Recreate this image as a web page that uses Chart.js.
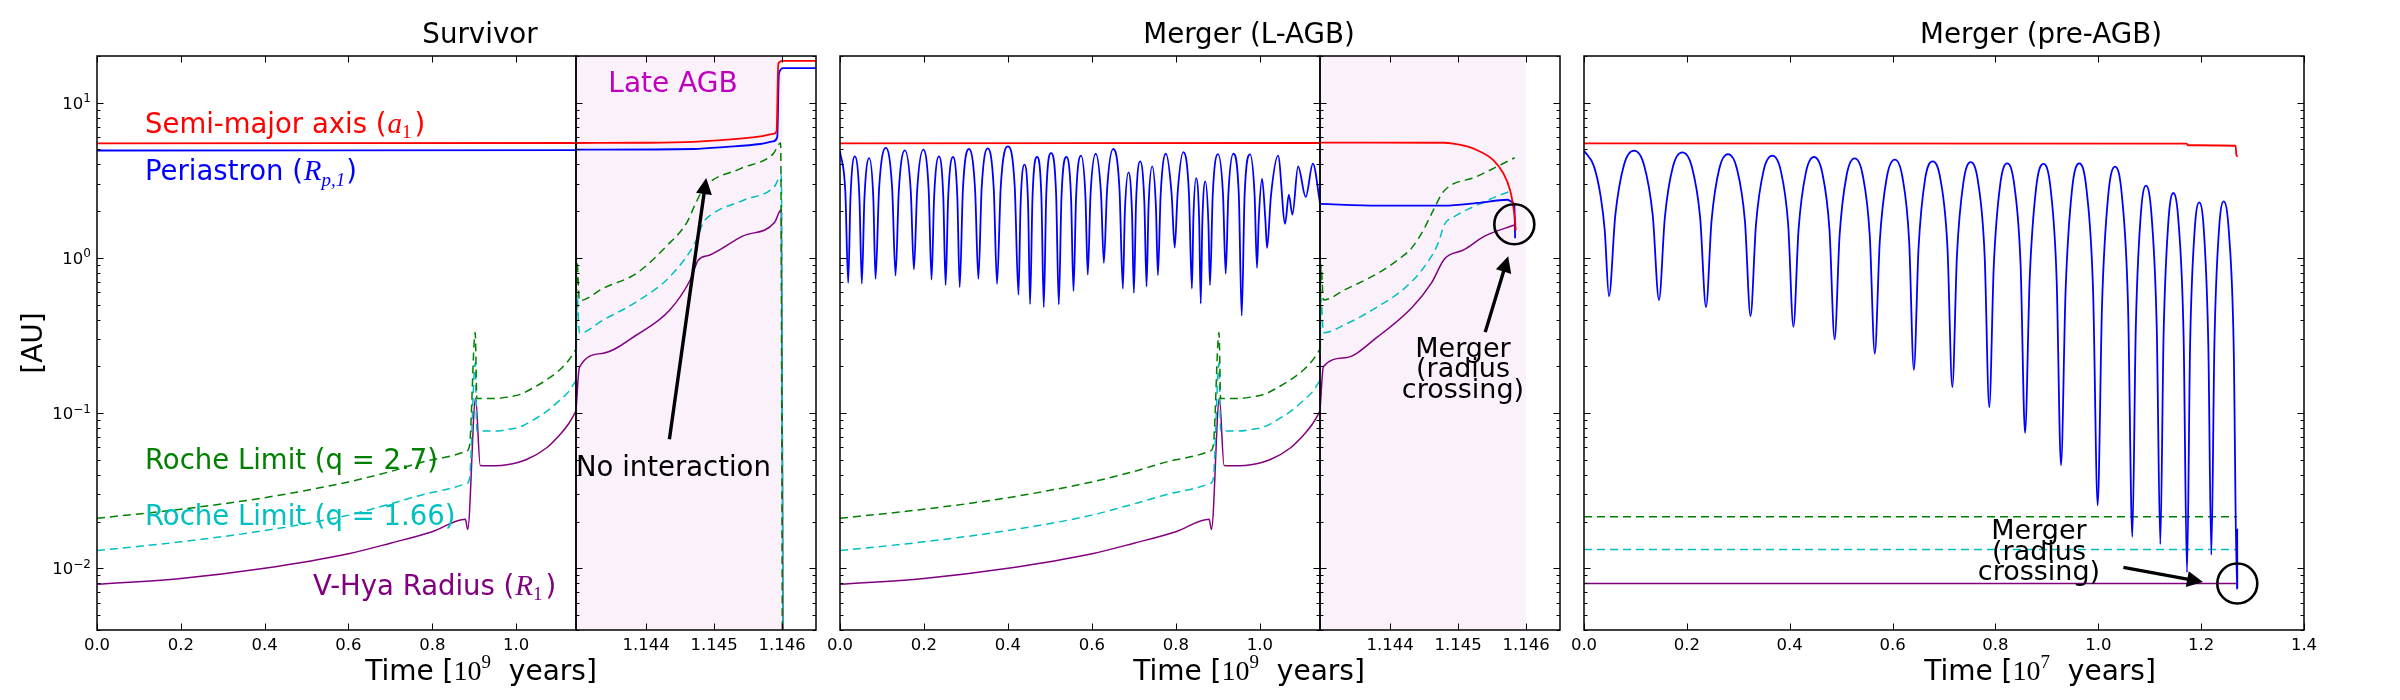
<!DOCTYPE html>
<html><head><meta charset="utf-8">
<script src="https://cdn.jsdelivr.net/npm/chart.js@4.4.1/dist/chart.umd.min.js"></script>
<style>
html,body{margin:0;padding:0;background:#fff;}
#wrap{position:relative;width:2400px;height:700px;overflow:hidden;}
canvas{position:absolute;left:0;top:0;}
</style></head>
<body><div id="wrap">
<canvas id="c1" width="2400" height="700"></canvas>
<canvas id="c2" width="2400" height="700"></canvas>
<canvas id="c3" width="2400" height="700"></canvas>
<canvas id="c4" width="2400" height="700"></canvas>
<canvas id="c5" width="2400" height="700"></canvas>
</div>
<script>
// ---------------- DATA (time, AU) ----------------
const panelTitles = ['Survivor', 'Merger (L-AGB)', 'Merger (pre-AGB)'];
const xTicksEarly = [0.0, 0.2, 0.4, 0.6, 0.8, 1.0];      // 10^9 yr
const xTicksLate  = [1.144, 1.145, 1.146];               // 10^9 yr
const xTicksPre   = [0.0, 0.2, 0.4, 0.6, 0.8, 1.0, 1.2, 1.4]; // 10^7 yr
const yMajorTicks = [0.01, 0.1, 1, 10];
const yMajorExps  = ['\u22122', '\u22121', '0', '1'];

// shared early evolution (0 - 1.143 Gyr)
const earlyA = [[0,5.47],[1.143,5.50]];
const survEarlyRp = [[0,4.92],[1.143,4.95]];
const earlyRocheHi = [[0,0.021],[0.2,0.024],[0.4,0.0285],[0.6,0.036],[0.7,0.042],[0.8,0.05],[0.882,0.057],[0.889,0.062],[0.9025,0.33],[0.9065,0.124],[0.95,0.124],[0.98,0.127],[1.01,0.132],[1.04,0.145],[1.073,0.164],[1.105,0.191],[1.125,0.218],[1.143,0.258]];
const earlyRocheLo = [[0,0.013],[0.2,0.0148],[0.4,0.0175],[0.6,0.022],[0.7,0.026],[0.8,0.0308],[0.882,0.0352],[0.889,0.038],[0.9025,0.21],[0.9065,0.0765],[0.95,0.0765],[0.98,0.0785],[1.01,0.0815],[1.04,0.09],[1.073,0.1025],[1.105,0.1215],[1.125,0.137],[1.143,0.162]];
const earlyRadius = [[0,0.0079],[0.2,0.0086],[0.4,0.01],[0.6,0.0124],[0.7,0.0145],[0.8,0.0172],[0.879,0.0207],[0.8845,0.0178],[0.9035,0.125],[0.9145,0.046],[0.95,0.0458],[0.978,0.0464],[1.025,0.0502],[1.073,0.0598],[1.105,0.0728],[1.125,0.085],[1.143,0.103]];

// Survivor, late AGB
const survLateA = [[1.14297,5.5],[1.144,5.52],[1.1447,5.6],[1.14519,5.78],[1.14568,6.07],[1.14587,6.29],[1.14592,6.55],[1.145946,17.9],[1.14601,18.6],[1.1466,18.6]];
const survLateRp = [[1.14297,4.98],[1.1447,5.03],[1.14519,5.19],[1.14568,5.42],[1.14587,5.63],[1.14593,6.0],[1.145955,15.5],[1.14602,16.7],[1.1466,16.7]];
const survLateRocheHi = [[1.14297,0.258],[1.142985,0.95],[1.14302,0.53],[1.14337,0.637],[1.14386,0.796],[1.1443,1.19],[1.1446,1.69],[1.14474,2.3],[1.14486,2.85],[1.14538,3.75],[1.14587,4.68],[1.14598,5.5],[1.146005,0.003]];
const survLateRocheLo = [[1.14297,0.162],[1.142985,0.58],[1.14302,0.327],[1.14337,0.398],[1.14386,0.522],[1.14435,0.757],[1.14474,1.3],[1.14484,1.68],[1.14496,1.9],[1.14545,2.37],[1.14589,2.89],[1.14599,3.43],[1.146015,0.003]];
const survLateRadius = [[1.14297,0.103],[1.14302,0.197],[1.14337,0.243],[1.14386,0.3185],[1.14435,0.462],[1.14465,0.72],[1.14477,0.97],[1.14494,1.044],[1.14542,1.38],[1.14589,1.69],[1.14599,2.05],[1.146015,0.003]];

// Merger (L-AGB): periastron with troughs, peaks and read-off shoulders
const lagbEarlyRp = [[0,4.86],[0.01268,2.67],[0.0195,0.69],[0.02503,2.48],[0.0353,4.51],[0.04616,2.48],[0.052,0.683],[0.05816,2.42],[0.0696,4.4],[0.07935,2.42],[0.0846,0.732],[0.09314,2.81],[0.109,5.11],[0.12415,2.81],[0.1323,0.769],[0.14007,2.71],[0.1545,4.93],[0.16848,2.71],[0.176,0.841],[0.18384,2.74],[0.1984,4.98],[0.21114,2.74],[0.218,0.725],[0.22416,2.48],[0.2356,4.51],[0.24594,2.48],[0.2515,0.667],[0.25763,2.46],[0.269,4.47],[0.2794,2.46],[0.285,0.647],[0.2927,2.77],[0.307,5.03],[0.32163,2.77],[0.3295,0.732],[0.33727,2.79],[0.3517,5.08],[0.36613,2.79],[0.3739,0.68],[0.38283,2.88],[0.3994,5.23],[0.41604,2.88],[0.425,0.58],[0.42997,2.19],[0.4392,3.99],[0.44791,2.19],[0.4526,0.503],[0.45841,2.46],[0.4692,4.47],[0.4796,2.46],[0.4852,0.481],[0.49129,2.61],[0.5026,4.74],[0.51456,2.61],[0.521,0.5],[0.5274,2.46],[0.5393,4.47],[0.55016,2.46],[0.556,0.61],[0.5623,2.51],[0.574,4.56],[0.5844,2.51],[0.59,0.78],[0.59665,2.58],[0.609,4.69],[0.62155,2.58],[0.6283,0.929],[0.63607,2.77],[0.6505,5.03],[0.66552,2.77],[0.6736,0.634],[0.67829,1.96],[0.687,3.56],[0.69532,1.96],[0.6998,0.595],[0.70505,2.3],[0.7148,4.19],[0.72468,2.3],[0.73,0.656],[0.73473,2.14],[0.7435,3.89],[0.75228,2.14],[0.757,0.773],[0.76365,2.58],[0.776,4.69],[0.78965,2.58],[0.797,1.165],[0.80414,2.65],[0.8174,4.81],[0.83079,2.65],[0.838,0.634],[0.8415,1.8],[0.848,3.27],[0.85515,1.8],[0.859,0.508],[0.86285,1.71],[0.87,3.11],[0.87715,1.71],[0.881,0.667],[0.88765,2.57],[0.9,4.67],[0.91203,2.57],[0.9185,0.792],[0.92484,2.58],[0.9366,4.69],[0.9496,2.58],[0.9566,0.425],[0.96353,2.56],[0.9764,4.65],[0.98719,2.56],[0.993,0.863],[0.9972,1.78],[1.005,3.24],[1.0128,1.78],[1.017,1.16],[1.02617,2.51],[1.0432,4.56],[1.06,1.66],[1.0687,2.56],[1.0773,1.9],[1.0908,3.89],[1.109,2.47],[1.126,4.05],[1.1433,2.24]];
const lagbLateA = [[1.14297,5.53],[1.1448,5.52],[1.14493,5.45],[1.14512,5.25],[1.145275,4.96],[1.145519,4.27],[1.145666,3.51],[1.145765,2.74],[1.145813,2.14],[1.145838,1.75],[1.14585,1.5]];
const lagbLateRp = [[1.14297,2.23],[1.14383,2.17],[1.1448,2.17],[1.14529,2.26],[1.14573,2.37],[1.14579,2.3],[1.145828,2.2],[1.14584,1.34]];
const lagbLateRocheHi = [[1.14297,0.258],[1.142985,0.9],[1.14302,0.536],[1.14334,0.625],[1.14383,0.8],[1.14412,0.975],[1.14432,1.16],[1.14449,1.51],[1.144637,2.03],[1.144784,2.67],[1.145275,3.34],[1.145834,4.42]];
const lagbLateRocheLo = [[1.14297,0.162],[1.142985,0.55],[1.14302,0.329],[1.14334,0.372],[1.14383,0.488],[1.14422,0.641],[1.14451,0.883],[1.14471,1.25],[1.1448,1.64],[1.14495,1.85],[1.14529,2.2],[1.14573,2.65],[1.14577,2.68]];
const lagbLateRadius = [[1.14297,0.103],[1.14302,0.199],[1.14334,0.227],[1.14383,0.313],[1.14432,0.477],[1.14461,0.69],[1.1448,0.985],[1.14509,1.13],[1.14539,1.38],[1.14585,1.64]];

// Merger (pre-AGB), 10^7 yr
const preA = [[0,5.47],[1.172,5.45],[1.174,5.32],[1.267,5.28],[1.2685,4.6],[1.2715,4.5]];
const preRp = [[0,4.9],[0.0194,3.89],[0.0324,2.49],[0.0402,1.52],
[0.0486,0.566],[0.0608,1.87],[0.0778,3.98],[0.0972,4.91],[0.1166,3.98],[0.1337,1.87],
[0.1458,0.535],[0.1572,1.82],[0.173,3.88],[0.1912,4.79],[0.2096,3.88],[0.2258,1.82],
[0.2373,0.482],[0.248,1.73],[0.2629,3.74],[0.28,4.67],[0.2975,3.74],[0.3129,1.73],
[0.3238,0.422],[0.3344,1.64],[0.3492,3.65],[0.3662,4.56],[0.3826,3.65],[0.397,1.64],
[0.4072,0.36],[0.4172,1.52],[0.4313,3.53],[0.4473,4.47],[0.4633,3.53],[0.4773,1.52],
[0.4873,0.299],[0.497,1.4],[0.5107,3.42],[0.5263,4.38],[0.5419,3.42],[0.5556,1.4],
[0.5654,0.242],[0.5752,1.29],[0.5888,3.31],[0.6044,4.3],[0.6192,3.31],[0.6322,1.29],
[0.6414,0.19],[0.6506,1.17],[0.663,3.18],[0.678,4.19],[0.6933,3.18],[0.7067,1.17],
[0.7162,0.147],[0.7252,1.04],[0.7377,3.06],[0.752,4.14],[0.7664,3.06],[0.779,1.04],
[0.788,0.109],[0.7968,0.89],[0.809,2.92],[0.823,4.06],[0.8368,2.92],[0.849,0.89],
[0.8576,0.0745],[0.8666,0.73],[0.8791,2.82],[0.8935,4.03],[0.9071,2.82],[0.919,0.73],
[0.9275,0.046],[0.9364,0.61],[0.9488,2.72],[0.963,4.06],[0.9773,2.72],[0.9899,0.61],
[0.9988,0.0254],[1.0073,0.5],[1.0191,2.48],[1.0327,3.87],[1.0461,2.48],[1.0578,0.5],
[1.0662,0.0159],[1.0729,0.35],[1.0822,1.81],[1.0928,2.92],[1.1039,1.81],[1.1137,0.35],
[1.1206,0.0143],[1.1269,0.31],[1.1358,1.62],[1.1459,2.62],[1.1565,1.62],[1.1659,0.31],
[1.1725,0.0094],[1.1785,0.27],[1.1868,1.41],[1.1964,2.28],[1.2058,1.41],[1.214,0.27],
[1.2198,0.0122],[1.2258,0.28],[1.2342,1.43],[1.2438,2.31],[1.2542,1.43],[1.2632,0.28],
[1.2697,0.0073],[1.2701,0.0178],[1.2703,0.0074]];
const preRocheHi = [[0,0.0215],[1.27,0.0215]];
const preRocheLo = [[0,0.0132],[1.27,0.0132]];
const preRadius = [[0,0.00796],[1.27,0.00796]];

// ---------------- STYLE ----------------
const SANS = '"DejaVu Sans", "Liberation Sans", sans-serif';
const SERIF = '"Liberation Serif", "DejaVu Serif", serif';
const F = (px, fam, style) => (style ? style + ' ' : '') + px + 'px ' + (fam || SANS);
const RED = '#ff0000', BLUE = '#0000ff', GREEN = '#008000', CYAN = '#00bfbf', PURPLE = '#800080', MAG = '#bf00bf';
const PINK = 'rgba(191,0,191,0.055)';
const DASH = [8, 5];
const Y_MIN = 0.004, Y_MAX = 20;
const ANN = 27.5;

function ser(pts, color, w, dash) { return {pts, color, w, dash}; }
const sA = p => ser(p, RED, 1.8);
const sRp = p => ser(p, BLUE, 1.8);
const sHi = p => ser(p, GREEN, 1.5, DASH);
const sLo = p => ser(p, CYAN, 1.5, DASH);
const sR = p => ser(p, PURPLE, 1.5);

function rich(ctx, x, y, parts, align, color) {
  ctx.save();
  ctx.fillStyle = color || '#000';
  ctx.textAlign = 'left'; ctx.textBaseline = 'alphabetic';
  let w = 0;
  const ws = parts.map(p => { ctx.font = p[1]; const v = ctx.measureText(p[0]).width + (p[3] || 0); w += v; return v; });
  let cx = align === 'center' ? x - w / 2 : (align === 'right' ? x - w : x);
  parts.forEach((p, i) => { ctx.font = p[1]; ctx.fillText(p[0], cx + (p[3] || 0), y + (p[2] || 0)); cx += ws[i]; });
  ctx.restore();
}
function arrow(ctx, x0, y0, x1, y1) {
  const dx = x1 - x0, dy = y1 - y0, L = Math.hypot(dx, dy), ux = dx / L, uy = dy / L, px = -uy, py = ux;
  const hl = 16, hw = 8, sw = 1.7;
  const bx = x1 - ux * hl, by = y1 - uy * hl;
  ctx.save(); ctx.fillStyle = '#000'; ctx.beginPath();
  ctx.moveTo(x0 + px * sw, y0 + py * sw); ctx.lineTo(bx + px * sw, by + py * sw);
  ctx.lineTo(bx + px * hw, by + py * hw); ctx.lineTo(x1, y1);
  ctx.lineTo(bx - px * hw, by - py * hw); ctx.lineTo(bx - px * sw, by - py * sw);
  ctx.lineTo(x0 - px * sw, y0 - py * sw); ctx.closePath(); ctx.fill(); ctx.restore();
}
function circle(ctx, cx, cy, r) {
  ctx.save(); ctx.strokeStyle = '#000'; ctx.lineWidth = 2.6; ctx.beginPath();
  ctx.arc(cx, cy, r, 0, Math.PI * 2); ctx.stroke(); ctx.restore();
}

function decoPlugin(d) {
  return {
    id: 'deco',
    beforeDatasetsDraw(chart) {
      if (!d.pink) return;
      const {ctx, chartArea: a, scales: {x}} = chart;
      const x0 = Math.max(a.left, x.getPixelForValue(d.pink[0]));
      const x1 = Math.min(a.right, x.getPixelForValue(d.pink[1]));
      ctx.save(); ctx.fillStyle = PINK; ctx.fillRect(x0, a.top, x1 - x0, a.bottom - a.top); ctx.restore();
    },
    afterDraw(chart) {
      const {ctx, chartArea: a, scales: {x, y}} = chart;
      ctx.save();
      ctx.strokeStyle = '#000'; ctx.lineWidth = 1.5;
      ctx.strokeRect(a.left, a.top, a.right - a.left, a.bottom - a.top);
      ctx.lineWidth = 1;
      ctx.beginPath();
      for (let e = -3; e <= 1; e++) {
        for (let k = 1; k <= 9; k++) {
          const v = k * Math.pow(10, e);
          if (v < Y_MIN * 0.999 || v > Y_MAX * 1.001) continue;
          const len = k === 1 ? 6.5 : 3.5;
          const py = Math.round(y.getPixelForValue(v)) + 0.5;
          if (d.yL) { ctx.moveTo(a.left, py); ctx.lineTo(a.left + len, py); }
          if (d.yR) { ctx.moveTo(a.right, py); ctx.lineTo(a.right - len, py); }
        }
      }
      d.xt.forEach(v => {
        const px = Math.round(x.getPixelForValue(v)) + 0.5;
        ctx.moveTo(px, a.bottom); ctx.lineTo(px, a.bottom - 6.5);
        ctx.moveTo(px, a.top); ctx.lineTo(px, a.top + 6.5);
      });
      ctx.stroke();
      ctx.fillStyle = '#000'; ctx.font = F(16.5); ctx.textAlign = 'center'; ctx.textBaseline = 'alphabetic';
      d.xt.forEach(v => ctx.fillText(v.toFixed(d.xd), x.getPixelForValue(v), a.bottom + 20));
      if (d.yLabels) {
        yMajorTicks.forEach((v, i) => {
          const py = y.getPixelForValue(v);
          rich(ctx, a.left - 6, py + 6, [['10', F(16.5)], [yMajorExps[i], F(12), -6.5]], 'right', '#000');
        });
      }
      ctx.restore();
      if (d.extra) d.extra(chart, ctx);
    }
  };
}

function makeChart(id, area, xRange, series, deco) {
  const datasets = series.map(s => ({
    data: s.pts.map(p => ({x: p[0], y: p[1]})),
    borderColor: s.color, borderWidth: s.w, borderDash: s.dash || [],
    pointRadius: 0, fill: false, cubicInterpolationMode: 'monotone', clip: 0
  }));
  return new Chart(document.getElementById(id), {
    type: 'line',
    data: {datasets},
    options: {
      responsive: false, animation: false, devicePixelRatio: 1, events: [],
      layout: {padding: {left: area[0], top: area[1], right: 2400 - area[2], bottom: 700 - area[3]}},
      plugins: {legend: {display: false}, tooltip: {enabled: false}, title: {display: false}},
      scales: {
        x: {type: 'linear', min: xRange[0], max: xRange[1], display: false},
        y: {type: 'logarithmic', min: Y_MIN, max: Y_MAX, display: false}
      }
    },
    plugins: [decoPlugin(deco)]
  });
}

function timeLabel(ctx, cx, exp) {
  rich(ctx, cx, 680, [['Time [', F(28)], ['10', F(28, SERIF)], [exp, F(19, SERIF), -12], ['  years]', F(28)]], 'center', '#000');
}
function title(ctx, cx, t) {
  ctx.save(); ctx.fillStyle = '#000'; ctx.font = F(27.7); ctx.textAlign = 'center'; ctx.textBaseline = 'alphabetic';
  ctx.fillText(t, cx, 43); ctx.restore();
}
function mergerText(ctx, cx, y0) {
  ['Merger', '(radius', 'crossing)'].forEach((s, i) => {
    ctx.save(); ctx.fillStyle = '#000'; ctx.font = F(27); ctx.textAlign = 'center';
    ctx.fillText(s, cx, y0 + i * 20.5); ctx.restore();
  });
}

// ---------------- PANEL 1: Survivor ----------------
makeChart('c1', [97, 56, 576, 630], [0, 1.143],
  [sA(earlyA), sRp(survEarlyRp), sHi(earlyRocheHi), sLo(earlyRocheLo), sR(earlyRadius)],
  {yL: true, yR: false, yLabels: true, xt: xTicksEarly, xd: 1, extra(chart, ctx) {
    rich(ctx, 145, 132.5, [['Semi-major axis (', F(ANN)], ['a', F(29, SERIF, 'italic'), 0, 1], ['1', F(19, SERIF), 5], [')', F(ANN), 0, 3]], 'left', RED);
    rich(ctx, 145, 180.4, [['Periastron (', F(ANN)], ['R', F(29, SERIF, 'italic'), 0, 1], ['p,1', F(19, SERIF, 'italic'), 6], [')', F(ANN), 0, 1]], 'left', BLUE);
    rich(ctx, 145, 469.2, [['Roche Limit (q = 2.7)', F(ANN)]], 'left', GREEN);
    rich(ctx, 145, 525, [['Roche Limit (q = 1.66)', F(ANN)]], 'left', CYAN);
    rich(ctx, 313, 594.7, [['V-Hya Radius (', F(ANN)], ['R', F(29, SERIF, 'italic'), 0, 1], ['1', F(19, SERIF), 5], [')', F(ANN), 0, 3]], 'left', PURPLE);
    ctx.save(); ctx.translate(34.5, 343); ctx.rotate(-Math.PI / 2);
    ctx.fillStyle = '#000'; ctx.font = F(28); ctx.textAlign = 'center'; ctx.textBaseline = 'middle';
    ctx.fillText('[AU]', 0, 0); ctx.restore();
    title(ctx, 480, panelTitles[0]);
    timeLabel(ctx, 481, '9');
  }});
makeChart('c2', [576, 56, 816, 630], [1.14297, 1.1465],
  [sA(survLateA), sRp(survLateRp), sHi(survLateRocheHi), sLo(survLateRocheLo), sR(survLateRadius)],
  {yL: true, yR: true, pink: [1.14297, 1.146], xt: xTicksLate, xd: 3, extra(chart, ctx) {
    const {x, y} = chart.scales;
    rich(ctx, 673, 91.7, [['Late AGB', F(28)]], 'center', MAG);
    rich(ctx, 576, 476.4, [['No interaction', F(ANN)]], 'left', '#000');
    arrow(ctx, x.getPixelForValue(1.144344), y.getPixelForValue(0.06785), x.getPixelForValue(1.144885), y.getPixelForValue(3.267));
  }});

// ---------------- PANEL 2: Merger (L-AGB) ----------------
makeChart('c3', [840, 56, 1320, 630], [0, 1.143],
  [sA(earlyA), sRp(lagbEarlyRp), sHi(earlyRocheHi), sLo(earlyRocheLo), sR(earlyRadius)],
  {yL: true, yR: true, xt: xTicksEarly, xd: 1, extra(chart, ctx) {
    title(ctx, 1249, panelTitles[1]);
    timeLabel(ctx, 1249, '9');
  }});
makeChart('c4', [1320, 56, 1560, 630], [1.14297, 1.1465],
  [sA(lagbLateA), sRp(lagbLateRp), sHi(lagbLateRocheHi), sLo(lagbLateRocheLo), sR(lagbLateRadius)],
  {yL: true, yR: true, pink: [1.14297, 1.146], xt: xTicksLate, xd: 3, extra(chart, ctx) {
    const {x, y} = chart.scales;
    circle(ctx, x.getPixelForValue(1.145828), y.getPixelForValue(1.646), 20);
    arrow(ctx, x.getPixelForValue(1.1454), y.getPixelForValue(0.3324), x.getPixelForValue(1.145738), y.getPixelForValue(1.024));
    mergerText(ctx, 1463, 356.7);
  }});

// ---------------- PANEL 3: Merger (pre-AGB) ----------------
makeChart('c5', [1584, 56, 2304, 630], [0, 1.4],
  [sA(preA), sRp(preRp), sHi(preRocheHi), sLo(preRocheLo), sR(preRadius)],
  {yL: true, yR: true, xt: xTicksPre, xd: 1, extra(chart, ctx) {
    const {x, y} = chart.scales;
    circle(ctx, x.getPixelForValue(1.2703), y.getPixelForValue(0.007977), 20);
    arrow(ctx, x.getPixelForValue(1.04883), y.getPixelForValue(0.01014), x.getPixelForValue(1.20361), y.getPixelForValue(0.008153));
    mergerText(ctx, 2039, 539.3);
    title(ctx, 2041, panelTitles[2]);
    timeLabel(ctx, 2040, '7');
  }});
</script>
</body></html>
